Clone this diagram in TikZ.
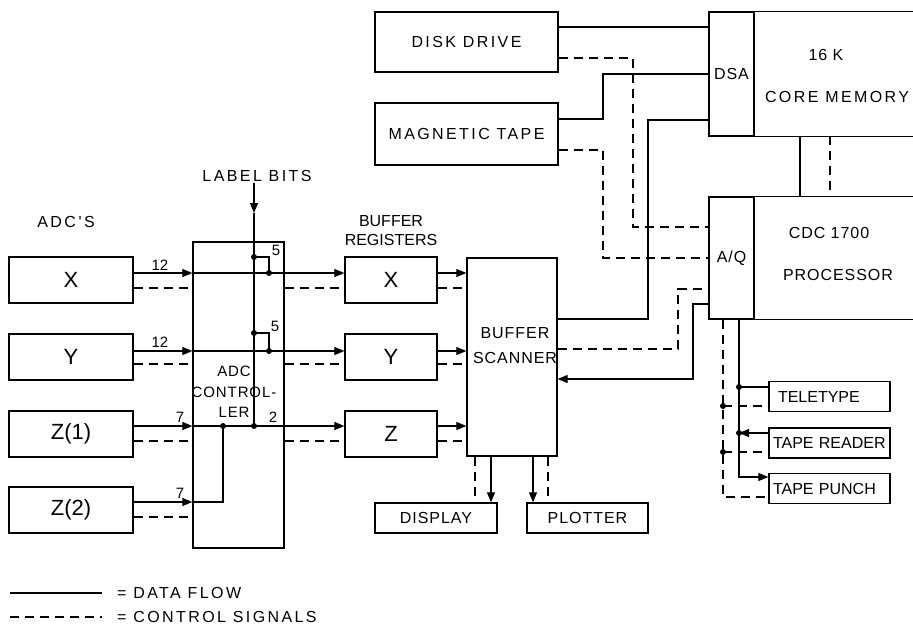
\documentclass[tikz,border=0pt]{standalone}
\usepackage{fontspec}
\setmainfont{Liberation Sans}
\newfontfamily\widefont[LetterSpace=15]{Liberation Sans}
\newfontfamily\midfont[LetterSpace=6]{Liberation Sans}
\newfontfamily\plainfont{Liberation Sans}
\usetikzlibrary{arrows.meta}

\tikzset{
  box/.style={draw, line width=1.3pt, inner sep=0pt},
  adcbox/.style={box, minimum width=124pt, minimum height=46pt, font=\plainfont\fontsize{22}{24}\selectfont},
  regbox/.style={box, minimum width=92pt, minimum height=46pt, font=\plainfont\fontsize{22}{24}\selectfont},
  outbox/.style={box, minimum width=122pt, minimum height=30pt, font=\midfont\fontsize{16}{19}\selectfont},
  perbox/.style={box, minimum width=121pt, minimum height=30pt, text width=113pt, inner xsep=4pt, align=left, font=\plainfont\fontsize{16}{19}\selectfont},
  widetext/.style={inner sep=1pt, font=\widefont\fontsize{16}{19}\selectfont},
  midtext/.style={inner sep=1pt, font=\midfont\fontsize{16}{19}\selectfont},
  plaintext/.style={inner sep=1pt, font=\plainfont\fontsize{16}{19}\selectfont},
  numtext/.style={inner sep=0pt, font=\plainfont\fontsize{15}{15}\selectfont},
  data/.style={line width=1.2pt},
  ctl/.style={line width=1.2pt, dash pattern=on 9pt off 6pt},
}
\newcommand{\jdot}[1]{\fill (#1) circle (3pt);}

\begin{document}
\begin{tikzpicture}[x=1pt, y=-1pt, >={Triangle[length=10pt,width=8pt]}]
  \useasboundingbox (0,0) rectangle (913,630);

  % signal levels
  \coordinate (xd) at (0,273);  \coordinate (xc) at (0,288);
  \coordinate (yd) at (0,351);  \coordinate (yc) at (0,364);
  \coordinate (z1d) at (0,426); \coordinate (z1c) at (0,441);
  \coordinate (z2d) at (0,502); \coordinate (z2c) at (0,517);

  % ADC's
  \node[widetext] (adcs) at (66,222) {ADC\,'S};
  \node[adcbox] (adcx) at (71,280) {X};
  \node[adcbox] (adcy) at (71,357) {Y};
  \node[adcbox] (adcz1) at (71,434) {Z(1)};
  \node[adcbox] (adcz2) at (71,510) {Z(2)};

  % ADC controller
  \node[box, minimum width=91pt, minimum height=306pt] (ctrl) at (238.5,395) {};
  \node[midtext, align=center, font=\midfont\fontsize{15}{20.5}\selectfont] (ctrltxt) at (234,392) {ADC\\CONTROL-\\LER};
  \node[widetext] (bits) at (257,176) {LABEL BITS};

  % buffer registers and scanner
  \node[plaintext, align=center, font=\plainfont\fontsize{16}{19}\selectfont] (bufreg) at (391,231) {BUFFER\\REGISTERS};
  \node[regbox] (bufx) at (391,280) {X};
  \node[regbox] (bufy) at (391,357) {Y};
  \node[regbox] (bufz) at (391,434) {Z};
  \node[box, minimum width=90pt, minimum height=198pt] (scan) at (512,357) {};
  \node[midtext, align=center, font=\midfont\fontsize{16}{25}\selectfont] (scantxt) at (515,346) {BUFFER\\SCANNER};
  \node[outbox] (disp) at (436,518) {DISPLAY};
  \node[outbox, minimum width=121pt] (plot) at (587.5,518) {PLOTTER};

  % mass storage
  \node[box, minimum width=183pt, minimum height=60pt, font=\widefont\fontsize{16}{19}\selectfont] (disk) at (466.5,42) {DISK DRIVE};
  \node[box, minimum width=183pt, minimum height=62pt, font=\widefont\fontsize{16}{19}\selectfont] (tape) at (466.5,134) {MAGNETIC TAPE};

  % computer
  \node[box, minimum width=45pt, minimum height=124pt, font=\midfont\fontsize{16}{19}\selectfont] (dsa) at (731.5,74) {DSA};
  \node[minimum width=159pt, minimum height=124pt, inner sep=0pt] (mem) at (833.5,74) {};
  \draw[line width=1.3pt] (mem.north east) -- (mem.north west) -- (mem.south west) -- (mem.south east);
  \node[midtext] (memk) at (826,55) {16 K};
  \node[widetext] (memtxt) at (837,97) {CORE MEMORY};
  \node[box, minimum width=45pt, minimum height=122pt, font=\midfont\fontsize{16}{19}\selectfont] (aq) at (731.5,258) {A/Q};
  \node[minimum width=159pt, minimum height=122pt, inner sep=0pt] (cpu) at (833.5,258) {};
  \draw[line width=1.3pt] (cpu.north east) -- (cpu.north west) -- (cpu.south west) -- (cpu.south east);
  \node[midtext] (cputop) at (829,233) {CDC 1700};
  \node[midtext] (cputxt) at (838,275) {PROCESSOR};

  % peripherals
  \node[perbox] (tty) at (829.5,396.5) {\hspace*{5pt}TELETYPE};
  \node[perbox] (rdr) at (829.5,443) {TAPE READER};
  \node[perbox] (pun) at (829.5,488.5) {TAPE PUNCH};

  % ADC's to controller to registers
  \draw[data,->] (adcx.east |- xd) -- (ctrl.west |- xd);
  \draw[data,->] (ctrl.west |- xd) -- (bufx.west |- xd);
  \draw[data,->] (adcy.east |- yd) -- (ctrl.west |- yd);
  \draw[data,->] (ctrl.west |- yd) -- (bufy.west |- yd);
  \draw[data,->] (adcz1.east |- z1d) -- (ctrl.west |- z1d);
  \draw[data,->] (ctrl.west |- z1d) -- (bufz.west |- z1d);
  \draw[data,->] (adcz2.east |- z2d) -- (ctrl.west |- z2d);
  \draw[ctl] (adcx.east |- xc) -- (ctrl.west |- xc);
  \draw[ctl] (ctrl.east |- xc) -- (bufx.west |- xc);
  \draw[ctl] (adcy.east |- yc) -- (ctrl.west |- yc);
  \draw[ctl] (ctrl.east |- yc) -- (bufy.west |- yc);
  \draw[ctl] (adcz1.east |- z1c) -- (ctrl.west |- z1c);
  \draw[ctl] (ctrl.east |- z1c) -- (bufz.west |- z1c);
  \draw[ctl] (adcz2.east |- z2c) -- (ctrl.west |- z2c);
  \node[numtext] (nx) at (160,265) {12};
  \node[numtext] (ny) at (160,342) {12};
  \node[numtext] (nz1) at (180,417) {7};
  \node[numtext] (nz2) at (180,493) {7};

  % label bits inside controller
  \coordinate (lbtip) at (254,213);
  \coordinate (lbx) at (254,257);  \coordinate (jxb) at (269,273);
  \coordinate (lby) at (254,333);  \coordinate (jyb) at (269,351);
  \coordinate (jz1) at (223,426);  \coordinate (jz2) at (254,426);
  \draw[data,->] (lbtip |- bits.south) -- (lbtip);
  \draw[data] (lbtip) -- (jz2);
  \draw[data] (lbx) -| (jxb);
  \draw[data] (lby) -| (jyb);
  \draw[data] (ctrl.west |- z2d) -| (jz1);
  \foreach \p in {lbx,jxb,lby,jyb,jz1,jz2} {\jdot{\p}}
  \node[numtext] (n5a) at (276,250) {5};
  \node[numtext] (n5b) at (275,326) {5};
  \node[numtext] (n2) at (273,417) {2};

  % registers to scanner
  \draw[data,->] (bufx.east |- xd) -- (scan.west |- xd);
  \draw[data,->] (bufy.east |- yd) -- (scan.west |- yd);
  \draw[data,->] (bufz.east |- z1d) -- (scan.west |- z1d);
  \draw[ctl] (bufx.east |- xc) -- (scan.west |- xc);
  \draw[ctl] (bufy.east |- yc) -- (scan.west |- yc);
  \draw[ctl] (bufz.east |- z1c) -- (scan.west |- z1c);

  % scanner to display and plotter
  \coordinate (dsc) at (475,0); \coordinate (dsd) at (491,0);
  \coordinate (pld) at (533,0); \coordinate (plc) at (548,0);
  \draw[ctl] (scan.south -| dsc) -- (disp.north -| dsc);
  \draw[data,->] (scan.south -| dsd) -- (disp.north -| dsd);
  \draw[data,->] (scan.south -| pld) -- (plot.north -| pld);
  \draw[ctl] (scan.south -| plc) -- (plot.north -| plc);

  % storage to computer
  \coordinate (dd) at (0,27);   \coordinate (dc) at (0,58);
  \coordinate (td) at (0,119);  \coordinate (tc) at (0,150);
  \coordinate (k1) at (633,227); \coordinate (k2) at (603,74);
  \coordinate (k3) at (603,258); \coordinate (k4) at (648,120);
  \coordinate (k5) at (678,289); \coordinate (k6) at (693,304);
  \coordinate (k7) at (693,379);
  \coordinate (so) at (0,319);  \coordinate (sc) at (0,349);
  \draw[data] (disk.east |- dd) -- (dsa.west |- dd);
  \draw[ctl] (disk.east |- dc) -| (k1) -- (aq.west |- k1);
  \draw[data] (tape.east |- td) -| (k2) -- (dsa.west |- k2);
  \draw[ctl] (tape.east |- tc) -| (k3) -- (aq.west |- k3);
  \draw[data] (scan.east |- so) -| (k4) -- (dsa.west |- k4);
  \draw[ctl] (scan.east |- sc) -| (k5) -- (aq.west |- k5);
  \draw[data,->] (aq.west |- k6) -- (k6) -- (k7) -- (scan.east |- k7);

  % memory to processor
  \coordinate (mx) at (800,0); \coordinate (mcx) at (830,0);
  \draw[data] (mem.south -| mx) -- (cpu.north -| mx);
  \draw[ctl] (mem.south -| mcx) -- (cpu.north -| mcx);

  % processor to peripherals
  \coordinate (pa) at (739,0);   \coordinate (pc) at (723,0);
  \coordinate (ttd) at (739,387); \coordinate (ttc) at (723,406);
  \coordinate (rdd) at (739,433); \coordinate (rdc) at (723,452);
  \coordinate (pnd) at (0,477);   \coordinate (pnc) at (0,497);
  \draw[data,->] (aq.south -| pa) |- (pun.west |- pnd);
  \draw[ctl] (aq.south -| pc) |- (pun.west |- pnc);
  \draw[data] (ttd) -- (tty.west |- ttd);
  \draw[ctl] (ttc) -- (tty.west |- ttc);
  \draw[data,->] (rdr.west |- rdd) -- (rdd);
  \draw[ctl] (rdc) -- (rdr.west |- rdc);
  \foreach \p in {ttd,ttc,rdd,rdc} {\jdot{\p}}

  % legend
  \coordinate (l1a) at (10,593); \coordinate (l1b) at (102,593);
  \coordinate (l2a) at (10,617); \coordinate (l2b) at (102,617);
  \draw[data] (l1a) -- (l1b);
  \draw[ctl] (l2a) -- (l2b);
  \node[widetext, anchor=west] (lgdata) at (116,593) {=\ DATA FLOW};
  \node[widetext, anchor=west] (lgctl) at (116,617) {=\ CONTROL SIGNALS};
\end{tikzpicture}
\end{document}
